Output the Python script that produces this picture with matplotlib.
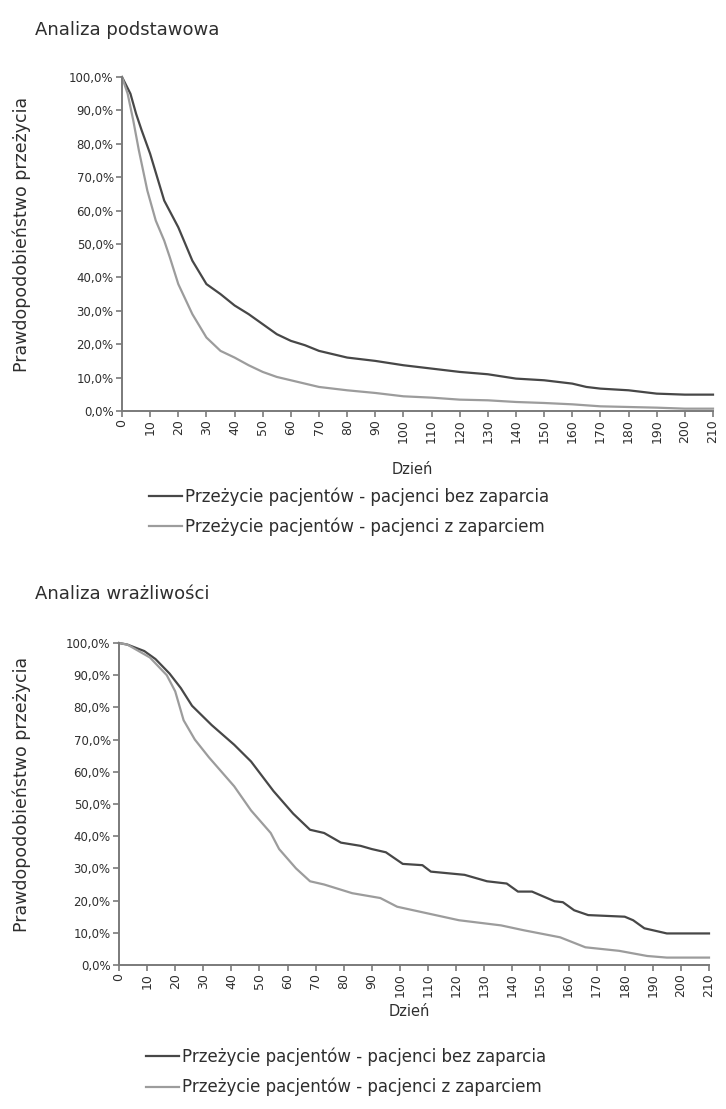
import matplotlib
matplotlib.use("Agg")
import matplotlib.pyplot as plt
from matplotlib.ticker import FuncFormatter

plt.rcParams['font.family'] = ['DejaVu Sans']

# ---- Data: top panel (Analiza podstawowa) ----
top_days_bez = [0, 3, 5, 7, 10, 15, 20, 25, 30, 35, 40, 45, 50, 55, 60, 65, 70, 80, 90,
                100, 110, 120, 130, 140, 150, 160, 165, 170, 180, 190, 200, 210]
top_vals_bez = [100, 95, 89, 84, 77, 63, 55, 45, 38, 35, 31.6, 29, 26, 23, 21, 19.7, 18, 16, 15,
                13.7, 12.7, 11.7, 11, 9.7, 9.2, 8.2, 7.2, 6.7, 6.2, 5.2, 4.9, 4.9]
top_days_z = [0, 2, 4, 6, 9, 12, 15, 17, 20, 25, 30, 35, 40, 45, 50, 55, 60, 70, 80, 90,
              100, 110, 120, 130, 140, 150, 160, 170, 180, 190, 200, 210]
top_vals_z = [100, 95, 87, 78, 66, 57, 51, 46, 38, 29, 22, 18, 16, 13.7, 11.7, 10.2, 9.2, 7.2, 6.2, 5.4,
              4.4, 4.0, 3.4, 3.2, 2.7, 2.4, 2.0, 1.4, 1.2, 1.0, 0.7, 0.7]

# ---- Data: bottom panel (Analiza wrażliwości) ----
bot_days_bez = [0, 3, 9, 13, 18, 22, 26, 33, 41, 47, 55, 62, 68, 73, 79, 86, 90, 95, 101,
                108, 111, 123, 131, 138, 142, 147, 155, 158, 162, 167, 180, 183, 187, 195, 200, 210]
bot_vals_bez = [100, 99.5, 97.5, 95, 90.5, 86, 80.5, 74.5, 68.4, 63.2, 54, 47, 42, 41, 38, 37, 36, 35, 31.4,
                31, 29, 28, 26, 25.3, 22.8, 22.8, 19.8, 19.5, 17, 15.5, 15, 13.9, 11.4, 9.8, 9.8, 9.8]
bot_days_z = [0, 3, 7, 11, 17, 20, 23, 27, 32, 41, 47, 54, 57, 63, 68, 73, 83, 93, 99, 110, 121,
              136, 144, 157, 166, 178, 188, 195, 210]
bot_vals_z = [100, 99.5, 97.5, 95.5, 90, 85, 76, 70, 64.5, 55.5, 48, 41, 36, 30, 26, 25, 22.3, 20.8, 18.1,
              16, 13.9, 12.3, 10.8, 8.6, 5.5, 4.4, 2.8, 2.3, 2.3]

x_ticks = list(range(0, 211, 10))
y_ticks = list(range(0, 101, 10))
label_bez = "Przeżycie pacjentów - pacjenci bez zaparcia"
label_z = "Przeżycie pacjentów - pacjenci z zaparciem"
titles = ["Analiza podstawowa", "Analiza wrażliwości"]

DARK = '#474747'
LIGHT = '#9c9c9c'
TXT = '#2e2e2e'
SPINE = '#7a7a7a'

W, H = 726, 1109
fig = plt.figure(figsize=(W / 100, H / 100), dpi=100)
fig.patch.set_facecolor('white')

def fx(px):
    return px / W

def fy(py):
    return 1 - py / H

panels = [
    dict(left=122, right=713, top=77, bottom=411, title_y=30, title_x=35,
         ylab_x=22, xlab_y=469, leg_y=481,
         bez=(top_days_bez, top_vals_bez), z=(top_days_z, top_vals_z), title=titles[0], leg_x=142),
    dict(left=119, right=709, top=643, bottom=965, title_y=594, title_x=35,
         ylab_x=22, xlab_y=1012, leg_y=1041,
         bez=(bot_days_bez, bot_vals_bez), z=(bot_days_z, bot_vals_z), title=titles[1], leg_x=139),
]

pct = FuncFormatter(lambda v, p: f"{v:.1f}%".replace('.', ','))

for p in panels:
    ax = fig.add_axes([fx(p['left']), fy(p['bottom']),
                       fx(p['right'] - p['left']), (p['bottom'] - p['top']) / H])
    l1, = ax.plot(p['bez'][0], p['bez'][1], color=DARK, lw=1.6, label=label_bez)
    l2, = ax.plot(p['z'][0], p['z'][1], color=LIGHT, lw=1.6, label=label_z)
    ax.set_xlim(0, 210)
    ax.set_ylim(0, 100)
    ax.set_xticks(x_ticks)
    ax.set_xticklabels([str(t) for t in x_ticks], rotation=90, fontsize=9, color=TXT)
    ax.set_yticks(y_ticks)
    ax.yaxis.set_major_formatter(pct)
    for lab in ax.get_yticklabels():
        lab.set_fontsize(8.5)
        lab.set_color(TXT)
    ax.tick_params(axis='both', direction='out', length=4, width=1.2, color=SPINE, pad=2)
    for s in ['top', 'right']:
        ax.spines[s].set_visible(False)
    for s in ['left', 'bottom']:
        ax.spines[s].set_color(SPINE)
        ax.spines[s].set_linewidth(1.4)
    l1.set_clip_on(False)
    l2.set_clip_on(False)

    fig.text(fx(p['title_x']), fy(p['title_y']), p['title'], fontsize=13, color=TXT,
             ha='left', va='center')
    fig.text(fx(p['ylab_x']), fy((p['top'] + p['bottom']) / 2 - 10), "Prawdopodobieństwo przeżycia",
             rotation=90, fontsize=12.5, color=TXT, ha='center', va='center')
    fig.text(fx((p['left'] + p['right']) / 2 - 5), fy(p['xlab_y']), "Dzień", fontsize=10.5,
             color=TXT, ha='center', va='center')
    fig.legend(handles=[l1, l2], loc='upper left',
               bbox_to_anchor=(fx(p['leg_x']), fy(p['leg_y'])),
               frameon=False, fontsize=12, handlelength=2.0, handletextpad=0.2,
               labelspacing=0.7, labelcolor=TXT, borderaxespad=0)

fig.savefig("out.png", dpi=100, facecolor='white')
